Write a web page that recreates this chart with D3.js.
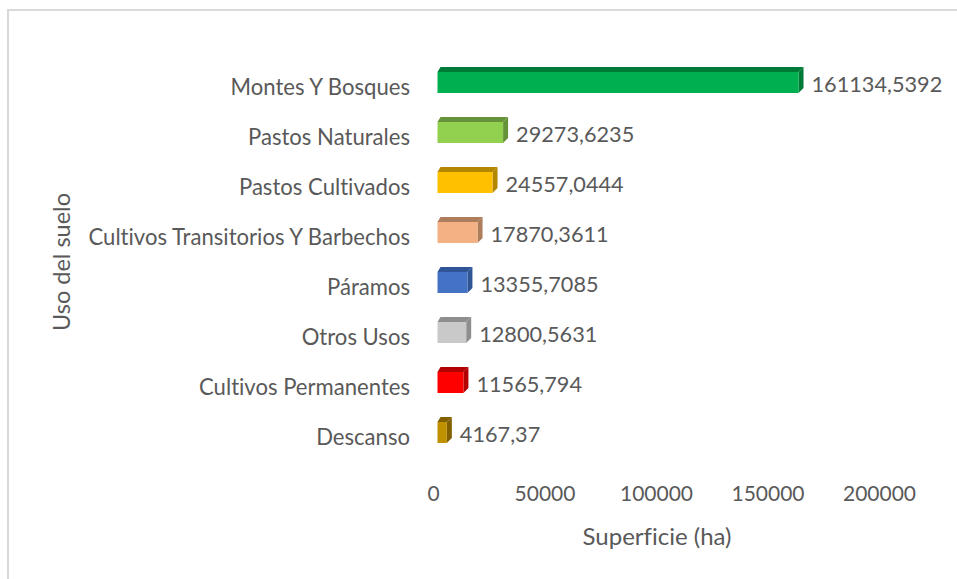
<!DOCTYPE html>
<html><head><meta charset="utf-8">
<script src="https://cdn.jsdelivr.net/npm/d3@7"></script>
<style>html,body{margin:0;padding:0;background:#fff;}svg{display:block;}text{font-variant-ligatures:none;}</style>
</head><body>
<script>
const categories = ["Montes Y Bosques","Pastos Naturales","Pastos Cultivados","Cultivos Transitorios Y Barbechos","Páramos","Otros Usos ","Cultivos Permanentes","Descanso"];
const values = [161134.5392, 29273.6235, 24557.0444, 17870.3611, 13355.7085, 12800.5631, 11565.794, 4167.37];
const valueLabels = ["161134,5392","29273,6235","24557,0444","17870,3611","13355,7085","12800,5631","11565,794","4167,37"];
const frontColors = ["#00b050","#92d050","#ffc000","#f4b183","#4472c4","#c9c9c9","#ff0000","#bf9000"];
const sideColors = ["#007a37","#66923a","#b48700","#ad7d5c","#2f5597","#8e8e8e","#b30000","#806000"];
const tickValues = [0,50000,100000,150000,200000];
const xTitle = "Superficie (ha)";
const yTitle = "Uso del suelo";

const W = 957, H = 579;
const font = "Lato, 'Open Sans', sans-serif";
const textColor = "#595959";
const svg = d3.select("body").append("svg").attr("width", W).attr("height", H);

svg.append("rect").attr("x", 8).attr("y", 10).attr("width", W).attr("height", H)
  .attr("fill", "#fff").attr("stroke", "#d9d9d9").attr("stroke-width", 2);

const xBar = d3.scaleLinear().domain([0, 200000]).range([437.5, 885.6]);
const xAxis = d3.scaleLinear().domain([0, 200000]).range([433, 879]);
const y = d3.scaleBand().domain(categories).range([57.5, 457.5]).paddingInner(0.58).paddingOuter(0.29);
const d = 5;

const g = svg.append("g");
categories.forEach((c, i) => {
  const x0 = xBar(0), x1 = xBar(values[i]);
  const y0 = y(c), h = y.bandwidth();
  g.append("path").attr("d", `M${x0},${y0} L${x0+d-2},${y0-d} L${x1+d},${y0-d} L${x1},${y0} Z`)
    .attr("fill", sideColors[i]);
  g.append("path").attr("d", `M${x1},${y0} L${x1+d},${y0-d} L${x1+d},${y0+h-d} L${x1},${y0+h} Z`)
    .attr("fill", sideColors[i]);
  g.append("rect").attr("x", x0).attr("y", y0).attr("width", x1 - x0).attr("height", h)
    .attr("fill", frontColors[i]);
  g.append("text").attr("x", x1 + d + 8).attr("y", y0 + h/2 + 9.5)
    .attr("font-family", font).attr("font-size", 21.7).attr("fill", textColor)
    .text(valueLabels[i]);
  g.append("text").attr("x", 410).attr("y", y0 + h/2 + 12.5).attr("text-anchor", "end")
    .attr("font-family", font).attr("font-size", 22.1).attr("fill", textColor)
    .text(c);
});

const axis = d3.axisBottom(xAxis).tickValues(tickValues).tickSize(0).tickPadding(0).tickFormat(d3.format("d"));
const ag = svg.append("g").attr("transform", "translate(0,486)").call(axis);
ag.select(".domain").remove();
ag.selectAll("text").attr("font-family", font).attr("font-size", 21).attr("fill", textColor).attr("dy", "0.72em");

svg.append("text").attr("x", 657).attr("y", 545).attr("text-anchor", "middle")
  .attr("font-family", font).attr("font-size", 24).attr("fill", textColor).text(xTitle);
svg.append("text").attr("transform", "translate(70,262) rotate(-90)").attr("text-anchor", "middle")
  .attr("font-family", font).attr("font-size", 23.5).attr("fill", textColor).text(yTitle);
</script>
</body></html>
